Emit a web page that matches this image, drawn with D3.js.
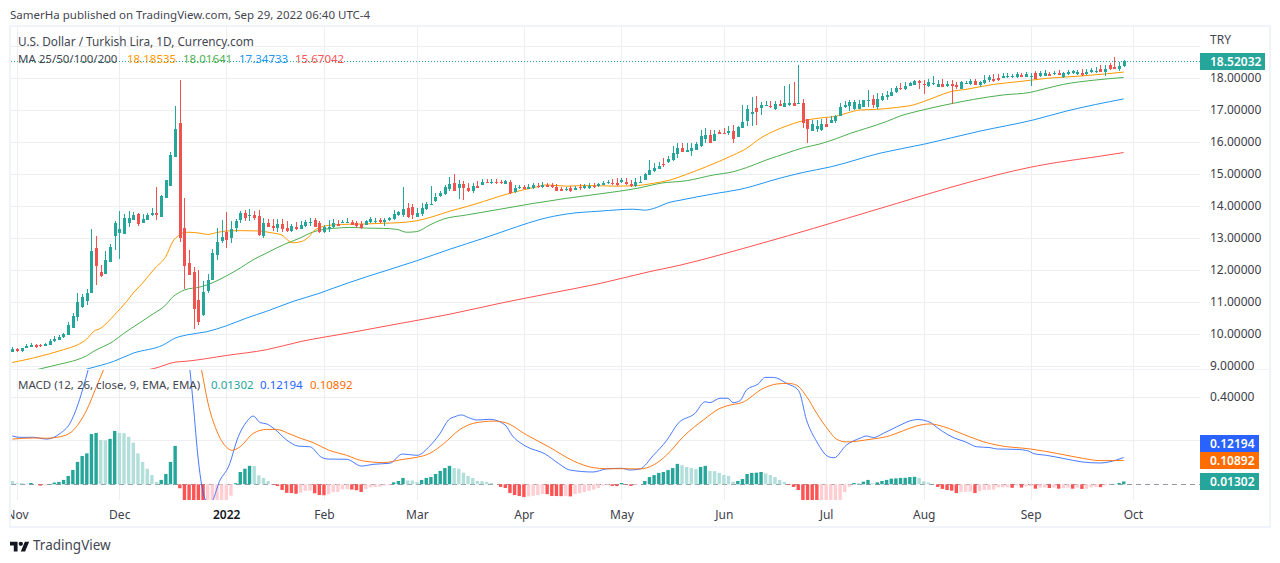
<!DOCTYPE html>
<html><head><meta charset="utf-8">
<script src="https://cdn.jsdelivr.net/npm/d3@7"></script>
<style>
html,body{margin:0;padding:0;background:#fff;overflow:hidden}
svg{display:block}
text{font-family:"Noto Sans",sans-serif;font-size:11.5px;fill:#434651}
</style></head><body><svg id="c" width="1280" height="563"></svg>
<script>
const startDate = "2021-10-29";
const opens = [9.45,9.54,9.48,9.55,9.58,9.66,9.67,9.61,9.66,9.77,
9.82,9.91,9.98,10.20,10.54,10.85,11.04,11.27,12.70,11.95,
11.88,12.24,13.07,13.16,13.13,13.48,13.57,13.76,13.48,13.57,
13.73,13.79,13.66,14.26,14.63,15.54,16.60,13.32,12.23,11.95,
11.07,10.59,11.35,11.69,12.48,12.91,13.20,13.01,13.32,13.57,
13.79,13.70,13.73,13.70,13.07,13.48,13.38,13.32,13.45,13.32,
13.23,13.35,13.29,13.38,13.49,13.56,13.46,13.19,13.29,13.33,
13.44,13.48,13.47,13.51,13.48,13.44,13.42,13.51,13.51,13.56,
13.51,13.56,13.60,13.72,13.72,13.93,13.98,13.67,13.74,13.90,
14.03,14.17,14.31,14.38,14.52,14.73,14.56,14.69,14.57,14.48,
14.63,14.67,14.75,14.72,14.75,14.75,14.70,14.75,14.44,14.55,
14.58,14.54,14.55,14.63,14.58,14.67,14.65,14.60,14.53,14.49,
14.55,14.51,14.58,14.55,14.57,14.64,14.61,14.67,14.71,14.71,
14.73,14.76,14.76,14.69,14.62,14.73,14.81,14.97,15.09,15.16,
15.31,15.37,15.44,15.63,15.81,15.69,15.72,15.75,15.88,16.09,
16.22,16.03,16.31,16.28,16.28,16.34,16.16,16.44,16.66,16.88,
17.06,17.06,17.14,17.13,17.03,17.19,17.09,17.16,17.22,17.20,
17.22,16.72,16.34,16.41,16.38,16.56,16.59,16.66,16.81,17.09,
17.13,17.03,17.03,17.09,17.28,17.34,17.09,17.31,17.41,17.45,
17.56,17.68,17.65,17.76,17.78,17.92,17.81,17.75,17.81,17.73,
17.81,17.75,17.81,17.78,17.67,17.82,17.81,17.90,17.77,17.83,
17.94,17.96,18.01,18.00,18.02,18.02,18.04,18.10,18.04,18.04,
18.15,18.06,18.07,18.12,18.11,18.17,18.02,18.12,18.15,18.12,
18.17,18.11,18.19,18.20,18.27,18.20,18.41,18.33,18.27,18.38];
const highs = [9.60,9.56,9.57,9.70,9.73,9.68,9.70,9.71,9.84,9.94,
9.97,10.04,10.38,10.67,11.29,11.25,11.41,13.29,13.07,12.17,
12.60,12.82,13.54,13.85,13.76,13.85,13.82,13.79,13.76,13.77,
13.95,14.60,14.35,14.82,15.69,17.13,17.95,14.26,12.63,12.10,
12.01,11.66,11.88,12.66,13.32,13.57,13.82,13.54,13.60,13.85,
13.88,13.91,13.85,13.88,13.63,13.60,13.60,13.60,13.60,13.54,
13.45,13.51,13.54,13.57,13.63,13.63,13.53,13.41,13.56,13.58,
13.56,13.56,13.61,13.56,13.53,13.53,13.56,13.65,13.61,13.61,
13.61,13.67,13.87,13.84,14.60,14.10,14.06,13.93,14.10,14.12,
14.63,14.40,14.48,14.66,14.90,15.00,14.81,14.79,14.71,14.73,
14.79,14.83,14.85,14.83,14.83,14.81,14.81,14.81,14.66,14.66,
14.65,14.69,14.73,14.71,14.74,14.73,14.71,14.68,14.58,14.58,
14.62,14.62,14.68,14.69,14.71,14.71,14.73,14.77,14.81,14.83,
14.86,14.86,14.86,14.81,14.86,14.94,15.02,15.44,15.33,15.38,
15.50,15.56,15.88,15.96,15.96,15.96,15.96,16.01,16.38,16.43,
16.38,16.38,16.38,16.43,16.50,16.53,16.50,17.16,17.16,17.41,
17.44,17.25,17.28,17.28,17.28,17.31,17.75,17.81,17.88,18.41,
17.34,16.72,16.69,16.69,16.72,16.75,16.81,16.84,17.22,17.28,
17.31,17.31,17.31,17.31,17.63,17.47,17.52,17.52,17.59,17.68,
17.75,17.83,17.89,17.89,17.94,17.94,17.94,17.96,18.06,17.94,
17.96,17.92,17.94,17.89,17.92,17.92,17.96,17.96,17.92,18.09,
18.09,18.12,18.12,18.15,18.15,18.12,18.18,18.17,18.20,18.17,
18.23,18.23,18.25,18.18,18.21,18.25,18.19,18.25,18.25,18.25,
18.27,18.27,18.30,18.33,18.41,18.42,18.46,18.67,18.51,18.56];
const lows = [9.45,9.45,9.45,9.55,9.58,9.57,9.60,9.61,9.66,9.76,
9.82,9.89,9.97,10.20,10.41,10.80,10.91,11.27,11.54,11.79,
11.88,12.24,12.63,12.35,13.13,13.35,13.57,13.38,13.46,13.57,
13.70,13.57,13.66,14.26,14.63,15.54,12.88,11.41,11.85,10.16,
10.29,10.57,11.29,11.69,12.32,12.85,12.69,12.85,13.20,13.48,
13.54,13.54,13.57,13.07,13.01,13.35,13.23,13.20,13.20,13.20,
13.20,13.26,13.29,13.35,13.36,13.35,13.17,13.17,13.20,13.30,
13.38,13.46,13.46,13.40,13.30,13.29,13.40,13.48,13.48,13.48,
13.38,13.54,13.56,13.70,13.67,13.61,13.59,13.65,13.70,13.88,
14.03,14.14,14.29,14.35,14.48,14.46,14.22,14.19,14.45,14.42,
14.55,14.66,14.71,14.69,14.69,14.69,14.69,14.36,14.40,14.53,
14.52,14.52,14.53,14.55,14.56,14.58,14.55,14.46,14.46,14.46,
14.44,14.49,14.50,14.53,14.52,14.57,14.59,14.65,14.69,14.67,
14.62,14.73,14.67,14.60,14.58,14.73,14.81,14.96,15.07,15.15,
15.21,15.33,15.40,15.49,15.69,15.69,15.56,15.75,15.85,15.96,
15.96,16.03,16.25,16.25,16.22,15.97,16.16,16.44,16.50,16.50,
16.52,16.84,17.13,17.05,17.00,17.13,17.09,17.13,17.13,17.19,
16.44,15.97,16.34,16.31,16.34,16.47,16.59,16.59,16.81,17.06,
16.97,17.00,17.03,17.09,17.09,17.06,17.03,17.28,17.31,17.45,
17.52,17.63,17.63,17.75,17.77,17.65,17.50,17.73,17.78,17.73,
17.73,17.71,17.19,17.65,17.65,17.81,17.78,17.78,17.73,17.81,
17.89,17.89,17.92,17.99,17.99,17.99,17.99,18.02,18.02,17.76,
17.96,18.04,18.06,18.06,18.09,18.08,17.99,18.09,18.11,18.09,
18.06,18.09,18.17,18.17,18.19,18.06,18.25,18.27,18.23,18.35];
const closes = [9.52,9.47,9.55,9.61,9.66,9.58,9.61,9.70,9.79,9.85,
9.91,10.01,10.28,10.57,11.01,11.16,11.29,12.60,12.11,11.82,
12.32,12.73,13.48,13.29,13.63,13.63,13.73,13.45,13.60,13.73,
13.79,13.73,14.32,14.82,15.60,16.41,13.01,12.13,11.85,10.79,
10.38,11.32,11.69,12.54,12.88,13.04,12.95,13.29,13.54,13.79,
13.63,13.73,13.63,13.10,13.48,13.35,13.32,13.45,13.29,13.23,
13.38,13.29,13.41,13.51,13.51,13.35,13.20,13.33,13.35,13.46,
13.38,13.51,13.51,13.42,13.39,13.30,13.53,13.58,13.54,13.51,
13.57,13.61,13.75,13.80,13.91,13.65,13.71,13.77,13.93,14.06,
14.06,14.28,14.42,14.60,14.69,14.48,14.69,14.56,14.48,14.63,
14.57,14.75,14.72,14.75,14.72,14.71,14.77,14.40,14.56,14.60,
14.54,14.60,14.66,14.58,14.67,14.60,14.58,14.48,14.48,14.53,
14.46,14.57,14.55,14.62,14.62,14.60,14.69,14.73,14.76,14.68,
14.65,14.81,14.70,14.62,14.76,14.75,15.00,15.13,15.19,15.25,
15.29,15.47,15.66,15.81,15.69,15.75,15.81,15.94,16.19,16.22,
15.97,16.25,16.25,16.25,16.34,16.09,16.47,16.63,17.03,16.94,
16.94,17.16,17.16,17.09,17.19,17.13,17.22,17.22,17.13,17.22,
16.59,16.41,16.56,16.50,16.56,16.47,16.69,16.81,17.09,17.16,
17.25,17.25,17.19,17.31,17.31,17.16,17.34,17.44,17.47,17.56,
17.68,17.65,17.75,17.83,17.92,17.83,17.79,17.89,17.85,17.81,
17.73,17.81,17.75,17.73,17.87,17.85,17.92,17.79,17.87,17.94,
18.02,17.92,17.93,18.06,18.06,18.06,18.12,18.04,18.12,18.06,
17.98,18.17,18.17,18.06,18.16,18.10,18.17,18.20,18.22,18.20,
18.08,18.19,18.25,18.23,18.20,18.27,18.28,18.28,18.38,18.52032];

// Moving averages read at [bar number, price]
const ma25 = [[0,9.11],[4.5,9.25],[8,9.38],[11,9.51],[14,9.66],[16,9.84],[17.5,10.08],[19,10.18],[22,10.6],[24.6,11.02],[26,11.28],[28,11.59],[30.7,12.06],[33,12.42],[34.6,12.91],[35.7,13.07],[36.4,13.15],[37.8,13.18],[40.4,13.15],[42,13.11],[44,13.17],[46,13.22],[49,13.23],[53,13.22],[55.4,13.17],[58,13.09],[59.7,12.88],[60.4,12.85],[62.2,12.89],[64,13.07],[64.7,13.2],[66.2,13.33],[69,13.41],[72.6,13.43],[76.2,13.44],[79.8,13.46],[83.4,13.48],[87,13.54],[90.5,13.67],[94.1,13.84],[97.7,13.98],[101.3,14.14],[104.9,14.31],[107.8,14.43],[112,14.57],[114.9,14.66],[119.2,14.62],[123.5,14.64],[130,14.62],[133.6,14.63],[137.9,14.71],[141.4,14.81],[145,14.99],[149.3,15.23],[155,15.59],[157.9,15.8],[160.8,16.11],[164.4,16.38],[166.5,16.5],[169.4,16.64],[173.7,16.75],[177.3,16.81],[179.4,16.9],[182.3,17],[185.9,17.02],[190.2,17.08],[193.8,17.16],[195.9,17.26],[198.8,17.42],[201.7,17.57],[205.3,17.65],[211,17.8],[216.7,17.89],[222.5,17.99],[229.6,18.06],[235.3,18.13],[239,18.185]];
const ma50 = [[0,8.72],[6,8.91],[10.3,9.06],[13.8,9.19],[16,9.32],[17.4,9.45],[21.7,9.77],[23.9,10.01],[27.5,10.36],[30.3,10.63],[32.8,10.88],[34.6,11.17],[35.7,11.28],[37.1,11.38],[40.4,11.47],[43.2,11.61],[46.1,11.82],[49,12.06],[51.8,12.32],[54.7,12.53],[58.3,12.79],[61.9,13],[64,13.15],[66.2,13.25],[69,13.3],[72.6,13.33],[76.2,13.31],[79.8,13.3],[82.7,13.27],[84.8,13.18],[87,13.2],[89.8,13.41],[92.7,13.59],[97.7,13.72],[104.9,13.9],[112,14.08],[119.2,14.24],[126.4,14.38],[135,14.57],[139.3,14.71],[145,14.79],[150.8,14.97],[155,15.07],[157.9,15.2],[162.2,15.44],[166.5,15.65],[170.1,15.82],[173.7,15.94],[177.3,16.11],[180.2,16.27],[183.7,16.43],[188,16.64],[190.9,16.81],[195.2,16.98],[201.7,17.19],[206.7,17.33],[213.1,17.47],[218.9,17.55],[221.7,17.65],[226,17.8],[232.5,17.93],[239,18.016]];
const ma100 = [[14,8.82],[16.7,8.93],[21.7,9.14],[26,9.4],[32.5,9.66],[35,9.87],[37.5,9.97],[41.8,10.07],[46.1,10.26],[50.4,10.5],[54.7,10.71],[60.4,11.02],[66.2,11.28],[69,11.43],[76.2,11.79],[81.2,12.02],[87,12.29],[94.1,12.65],[101.3,12.99],[108.5,13.35],[113.5,13.58],[119.2,13.75],[126.4,13.84],[133.6,13.9],[136,13.87],[138.5,13.95],[141,14.1],[143.6,14.18],[150.8,14.38],[156.5,14.52],[165.1,14.87],[170.1,15.05],[175.9,15.22],[186.6,15.65],[196,15.93],[208.1,16.34],[219.6,16.69],[226.8,16.97],[239,17.347]];
const ma200 = [[28,8.85],[30.7,8.93],[35,9.12],[37.5,9.15],[46.1,9.33],[54.7,9.51],[61.9,9.76],[72.6,10.04],[83.4,10.33],[94.1,10.62],[104.9,10.96],[115.6,11.27],[126.4,11.58],[137.1,11.95],[143.6,12.15],[152.9,12.5],[161.5,12.85],[172.3,13.3],[179.4,13.61],[190.2,14.08],[201,14.55],[211.7,14.97],[218.9,15.21],[224.6,15.36],[233.2,15.54],[239,15.67]];

// MACD lines read at [bar number, value]
const macdLine = [[0,.22],[1.6,.214],[4.5,.214],[7.4,.206],[10.3,.232],[12.4,.278],[14.2,.369],[15.3,.445],[16.3,.521],[19,.75],[25,1.05],[32,1.2],[36,.85],[38.2,.521],[38.9,.369],[40,.111],[41.4,-.064],[42.5,-.09],[44.7,.02],[46.5,.08],[48.6,.217],[50.4,.285],[51.8,.311],[53.3,.281],[54.7,.275],[56.5,.25],[59,.202],[61.5,.174],[64,.171],[66.5,.123],[68,.115],[71.9,.114],[75.1,.083],[77.6,.091],[81.2,.096],[83.9,.138],[87,.132],[89.8,.175],[92,.232],[93.8,.293],[95.2,.308],[96.6,.316],[98.1,.304],[99.9,.293],[102.7,.296],[106,.27],[107.4,.225],[110.3,.175],[114.6,.138],[117.4,.096],[119.9,.065],[124.9,.056],[127.8,.07],[131,.073],[132.8,.065],[135,.07],[137.9,.133],[140.7,.199],[143.2,.278],[146.8,.323],[149,.376],[150,.372],[152.2,.392],[153.9,.392],[155,.372],[156.5,.381],[157.9,.43],[160.4,.457],[161.9,.487],[163.7,.487],[166.5,.46],[169.1,.427],[170.8,.293],[173,.194],[175.5,.126],[176.7,.121],[179.4,.179],[182.3,.21],[183.7,.22],[185.2,.213],[187.3,.232],[190.2,.262],[193.8,.293],[194.8,.295],[197.4,.282],[199.1,.255],[202.7,.21],[204.9,.194],[207.4,.171],[210.3,.167],[211.7,.161],[216,.159],[218.5,.152],[219.6,.14],[222.4,.132],[226,.118],[230,.102],[233.9,.097],[237.5,.111],[239,.12194]];
const signalLine = [[0,.206],[4.5,.211],[7.4,.21],[10.3,.217],[12.8,.24],[16,.339],[18.1,.445],[19.6,.521],[28,.95],[36,1],[40.7,.521],[42.1,.369],[43.9,.247],[46.1,.168],[47.2,.155],[49,.171],[51.8,.232],[54.7,.25],[56.8,.25],[59.7,.229],[61.9,.21],[64.7,.19],[68,.156],[71.9,.132],[75.1,.108],[79.8,.099],[84.1,.114],[87,.123],[89.8,.141],[92.7,.184],[96.3,.25],[99.2,.278],[103.5,.288],[106,.281],[110.6,.225],[115.6,.168],[120.7,.106],[124.9,.076],[127.8,.071],[131.4,.071],[135,.07],[137.9,.088],[140.7,.133],[144.3,.217],[148.6,.293],[152.2,.346],[154.3,.361],[156.9,.372],[161.5,.437],[164.4,.457],[166.9,.46],[168.7,.451],[170.8,.4],[173,.323],[175.5,.247],[177.3,.205],[179.4,.193],[184.5,.205],[188,.217],[191.6,.244],[194.5,.266],[197.4,.275],[200.2,.263],[204.5,.228],[208.8,.194],[212.4,.176],[218.9,.161],[224.6,.141],[230.3,.118],[233.9,.108],[236.8,.108],[239,.10892]];
const macdHist = [.015,.005,.005,.003,.006,.001,-.006,-.005,.001,.008,
.011,.02,.038,.065,.102,.129,.141,.229,.234,.202,
.2,.207,.243,.234,.233,.216,.19,.141,.102,.071,
.042,.011,.02,.047,.102,.175,-.018,-.08,-.11,-.14,
-.17,-.19,-.17,-.15,-.12,-.09,-.075,-.052,.005,.056,
.071,.084,.083,.041,.029,.015,-.002,-.008,-.026,-.039,
-.04,-.043,-.038,-.03,-.029,-.041,-.049,-.05,-.044,-.036,
-.035,-.023,-.022,-.024,-.027,-.035,-.021,-.014,-.012,-.011,
-.005,-.004,.009,.015,.029,.018,.017,.011,.02,.029,
.033,.047,.061,.074,.084,.074,.071,.053,.038,.029,
.015,.0145,.011,.006,0,-.012,-.017,-.04,-.049,-.053,
-.058,-.055,-.052,-.049,-.044,-.045,-.053,-.0535,-.054,-.053,
-.055,-.044,-.041,-.035,-.03,-.024,-.017,-.006,-.003,-.0075,
-.008,.006,-.002,-.0075,-.003,0,.015,.033,.042,.052,
.056,.065,.074,.093,.087,.079,.074,.07,.079,.084,
.061,.06,.052,.043,.038,.012,.015,.024,.047,.052,
.053,.056,.05,.042,.033,.02,.011,-.003,-.012,-.026,
-.08,-.1,-.12,-.13,-.12,-.11,-.1,-.09,-.071,-.035,
-.011,.006,.005,.012,.02,.005,.009,.015,.02,.026,
.027,.029,.0295,.033,.034,.029,.014,.008,0,-.012,
-.021,-.026,-.029,-.04,-.035,-.034,-.033,-.04,-.032,-.026,
-.025,-.024,-.014,-.014,-.0135,-.016,-.006,-.015,-.009,-.0085,
-.02,-.015,-.0145,-.017,-.015,-.02,-.017,-.015,-.02,-.015,
-.021,-.02,-.014,-.012,-.013,-.005,-.001,.001,.006,.01302];

const priceTicks = [9,10,11,12,13,14,15,16,17,18];
const priceGrid = [9,10,11,12,13,14,15,16,17,18,19];
const macdGrid = [0.2,0.4];
const macdTicks = [0.4];
const timeTicks = ["2021-11-01","2021-12-01","2022-01-03","2022-02-01","2022-03-01","2022-04-01","2022-05-02","2022-06-01","2022-07-01","2022-08-01","2022-09-01","2022-10-03"];
const timeLabels = ["Nov","Dec","2022","Feb","Mar","Apr","May","Jun","Jul","Aug","Sep","Oct"];
const maNames = ["18.18535","18.01641","17.34733","15.67042"];
const lastPrice = 18.52032;
const lastMacd = 0.12194, lastSignal = 0.10892, lastHist = 0.01302;

const W = {l:11, r:1200, pt:27, pb:369, mt:370, mb:500};
const UP="#26a69a", DOWN="#ef5350", GRID="#eceef2", FRAME="#f0f3fa", INK="#3d404a";
const svg = d3.select("#c");
const x = d3.scaleLinear().domain([0,239]).range([12.3,1123.65]);
const y = d3.scaleLinear().domain([9,18]).range([366,78]);
const m = d3.scaleLinear().domain([0,0.4]).range([484.3,396.5]);
const barOf = s => { // trading-day number of a date (weekdays only)
  const a = d3.utcParse("%Y-%m-%d")(startDate), b = d3.utcParse("%Y-%m-%d")(s);
  return d3.utcDays(a,b).filter(d=>d.getUTCDay()%6).length;
};
const tickBars = timeTicks.map(barOf);
const px = v => Math.round(v);

const defs = svg.append("defs");
defs.append("clipPath").attr("id","cp").append("rect").attr("x",W.l).attr("y",W.pt).attr("width",W.r-W.l).attr("height",W.pb-W.pt);
defs.append("clipPath").attr("id","cm").append("rect").attr("x",W.l).attr("y",W.mt).attr("width",W.r-W.l).attr("height",W.mb-W.mt);
defs.append("clipPath").attr("id","cpa").append("rect").attr("x",0).attr("y",W.pt).attr("width",70).attr("height",W.pb+1-W.pt);
defs.append("clipPath").attr("id","cta").append("rect").attr("x",W.l).attr("y",0).attr("width",1250).attr("height",27);

// grid
const grid = svg.append("g").attr("shape-rendering","crispEdges").attr("stroke",GRID);
grid.selectAll(".v").data(tickBars).join("line").attr("x1",d=>px(x(d))+.5).attr("x2",d=>px(x(d))+.5).attr("y1",W.pt).attr("y2",W.mb);
grid.selectAll(".h").data(priceGrid).join("line").attr("x1",W.l).attr("x2",W.r).attr("y1",d=>px(y(d))+.5).attr("y2",d=>px(y(d))+.5);
grid.selectAll(".hm").data(macdGrid).join("line").attr("x1",W.l).attr("x2",W.r).attr("y1",d=>px(m(d))+.5).attr("y2",d=>px(m(d))+.5);

// panes separator and frame
svg.append("line").attr("x1",W.l).attr("x2",1269).attr("y1",369.5).attr("y2",369.5).attr("stroke",FRAME).attr("stroke-width",1);
svg.append("rect").attr("x",10).attr("y",26).attr("width",1260).attr("height",501).attr("fill","none").attr("stroke",FRAME).attr("stroke-width",2);

// MA lines
const priceG = svg.append("g").attr("clip-path","url(#cp)");
const line = d3.line().x(d=>x(d[0])).y(d=>y(d[1])).curve(d3.curveMonotoneX);
[[ma200,"#ff5252"],[ma100,"#2196f3"],[ma50,"#4caf50"],[ma25,"#ff9800"]].forEach(([d,c])=>{
  priceG.append("path").datum(d).attr("d",line).attr("fill","none").attr("stroke",c).attr("stroke-width",1);
});

// last price dotted line
priceG.append("line").attr("x1",W.l).attr("x2",W.r).attr("y1",px(y(lastPrice))+.5).attr("y2",px(y(lastPrice))+.5)
  .attr("stroke",UP).attr("stroke-dasharray","1 2");

// candles
const bars = d3.range(opens.length);
const colour = i => closes[i]>=opens[i]?UP:DOWN;
const cg = priceG.append("g").attr("shape-rendering","crispEdges");
cg.selectAll(".w").data(bars).join("line").attr("x1",i=>px(x(i))+.5).attr("x2",i=>px(x(i))+.5)
  .attr("y1",i=>y(highs[i])).attr("y2",i=>y(lows[i])).attr("stroke",colour);
cg.selectAll(".b").data(bars).join("rect").attr("x",i=>px(x(i))-1).attr("width",3)
  .attr("y",i=>y(Math.max(opens[i],closes[i])))
  .attr("height",i=>Math.max(1,Math.abs(y(opens[i])-y(closes[i])))).attr("fill",colour);

// MACD pane
const macdG = svg.append("g").attr("clip-path","url(#cm)");
macdG.append("line").attr("x1",W.l).attr("x2",W.r).attr("y1",px(m(0))+.5).attr("y2",px(m(0))+.5)
  .attr("stroke","#9598a1").attr("stroke-dasharray","5 4").attr("shape-rendering","crispEdges");
const histColour = i => {
  const v=macdHist[i], p=i?macdHist[i-1]:Infinity;
  return v>=0 ? (v>p?"#26a69a":"#b2dfdb") : (v<p?"#ff5252":"#ffcdd2");
};
macdG.append("g").selectAll("rect").data(bars).join("rect")
  .attr("x",i=>x(i)-1.6).attr("width",3.4)
  .attr("y",i=>Math.min(m(macdHist[i]),m(0))).attr("height",i=>Math.abs(m(macdHist[i])-m(0)))
  .attr("fill",histColour);
const mline = d3.line().x(d=>x(d[0])).y(d=>m(d[1])).curve(d3.curveMonotoneX);
macdG.append("path").datum(macdLine).attr("d",mline).attr("fill","none").attr("stroke","#2962ff").attr("stroke-width",1).attr("opacity",.85);
macdG.append("path").datum(signalLine).attr("d",mline).attr("fill","none").attr("stroke","#ff6d00").attr("stroke-width",1).attr("opacity",.9);

// axes
const fmt = d3.format(".5f");
const pa = svg.append("g").attr("class","ax").attr("transform",`translate(${W.r},0)`).attr("clip-path","url(#cpa)")
  .call(d3.axisRight(y).tickValues(priceTicks).tickFormat(fmt).tickSize(0).tickPadding(10));
pa.select(".domain").remove();
const ma = svg.append("g").attr("class","ax").attr("transform",`translate(${W.r},0)`)
  .call(d3.axisRight(m).tickValues(macdTicks).tickFormat(fmt).tickSize(0).tickPadding(10));
ma.select(".domain").remove();
const ta = svg.append("g").attr("class","ax").attr("transform",`translate(0,${W.mb})`).attr("clip-path","url(#cta)")
  .call(d3.axisBottom(x).tickValues(tickBars).tickFormat((d,i)=>timeLabels[i]).tickSize(0).tickPadding(10));
ta.select(".domain").remove();
svg.selectAll(".ax text").style("font-family",'"Noto Sans",sans-serif').style("font-size","12px").style("fill",INK);
ta.selectAll("text").filter(t=>t==tickBars[2]).style("fill","#131722").style("font-weight",600);

// value tags
function tag(v,top,c,wd){
  svg.append("rect").attr("x",W.r).attr("y",top).attr("width",wd).attr("height",17).attr("fill",c);
  svg.append("text").attr("x",W.r+10).attr("y",top+13).style("fill","#fff").style("font-size","12px").style("font-weight",600).text(fmt(v));
}
tag(lastPrice,53,UP,65);
tag(lastMacd,435,"#2962ff",59);
tag(lastSignal,452,"#ff6d00",59);
tag(lastHist,473,UP,59);

// texts
svg.append("text").attr("x",10).attr("y",19).text("SamerHa published on TradingView.com, Sep 29, 2022 06:40 UTC-4");
svg.append("text").attr("x",18).attr("y",46).style("font-size","11.8px").text("U.S. Dollar / Turkish Lira, 1D, Currency.com");
svg.append("text").attr("x",18).attr("y",63).text("MA 25/50/100/200");
[[127,"#ff9800"],[183,"#4caf50"],[239,"#2196f3"],[295,"#ff5252"]].forEach((p,i)=>
  svg.append("text").attr("x",p[0]).attr("y",63).style("fill",p[1]).text(maNames[i]));
svg.append("text").attr("x",18).attr("y",389).text("MACD (12, 26, close, 9, EMA, EMA)");
[[211,"#26a69a",lastHist],[260,"#2962ff",lastMacd],[310,"#ff6d00",lastSignal]].forEach(p=>
  svg.append("text").attr("x",p[0]).attr("y",389).style("fill",p[1]).text(fmt(p[2])));
svg.append("text").attr("x",1210).attr("y",44).style("font-size","12px").text("TRY");

// footer logo and name
const logo = svg.append("g").attr("transform","translate(10,539.5) scale(.54)").attr("fill","#131722");
logo.append("path").attr("d","M14 22H7V11H0V4h14v18zM28 22h-8l7.5-18h8L28 22z");
logo.append("circle").attr("cx",20).attr("cy",8).attr("r",4);
svg.append("text").attr("x",33).attr("y",550).style("font-size","13.5px").text("TradingView");
</script></body></html>
